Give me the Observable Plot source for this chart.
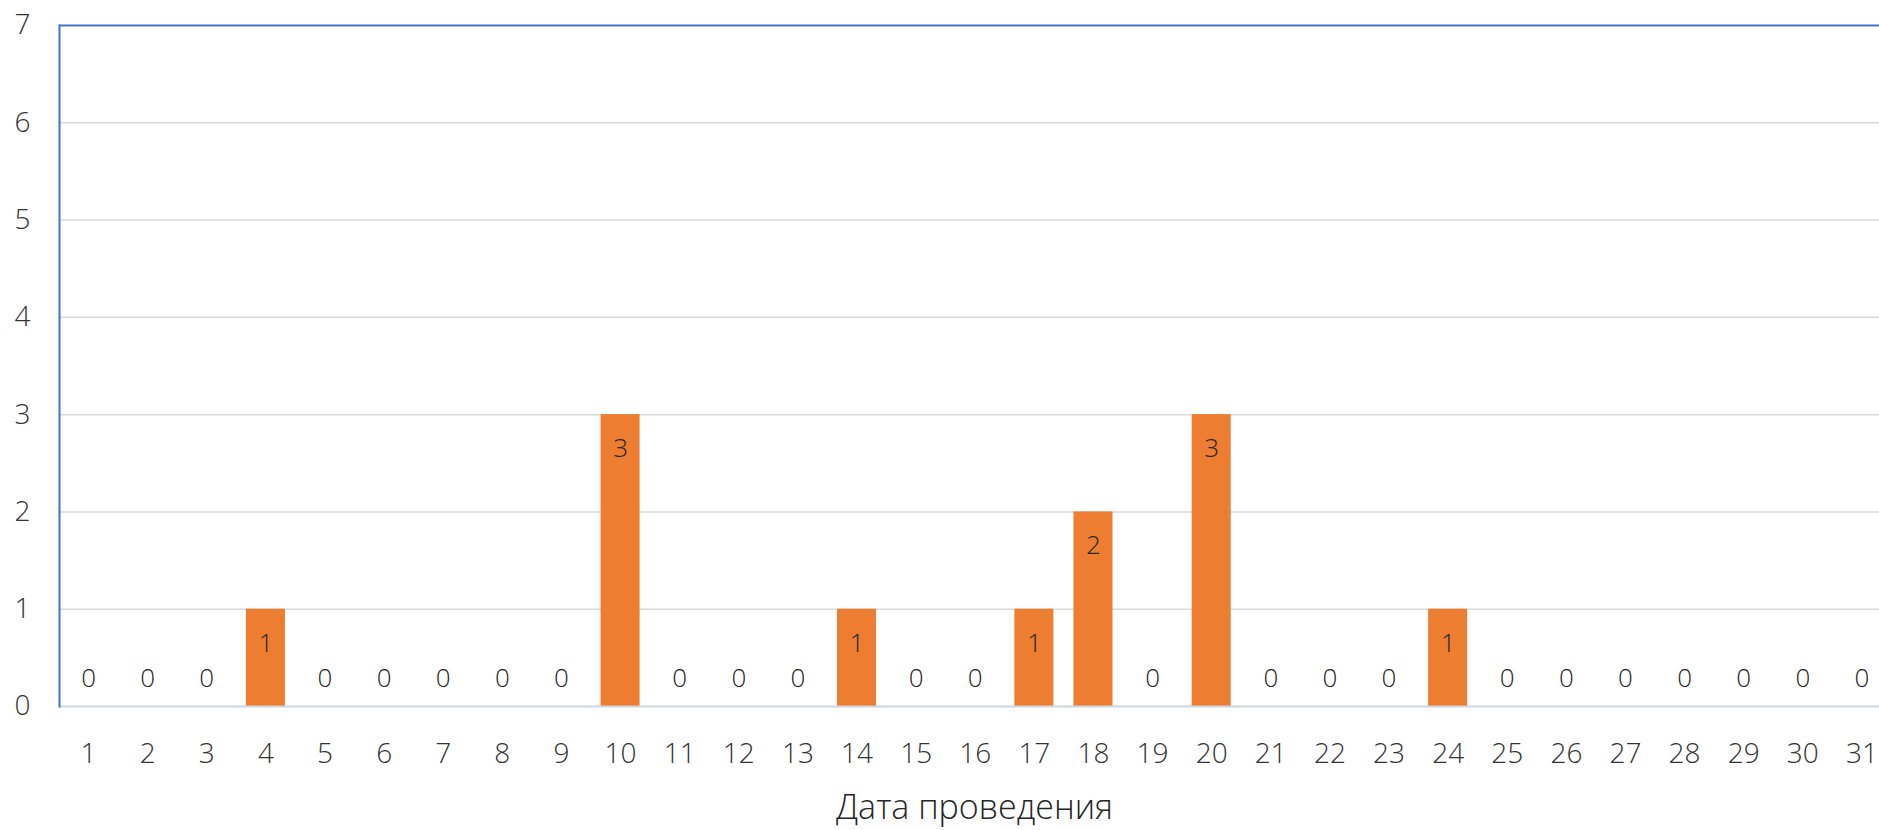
<!DOCTYPE html>
<html>
<head>
<meta charset="utf-8">
<script src="https://cdn.jsdelivr.net/npm/d3@7"></script>
<script src="https://cdn.jsdelivr.net/npm/@observablehq/plot@0.6"></script>
<style>
  html, body { margin: 0; padding: 0; background: #fff; }
  #chart { width: 1879px; height: 830px; overflow: hidden; }
</style>
</head>
<body>
<div id="chart"></div>
<script>
const days = ["1","2","3","4","5","6","7","8","9","10","11","12","13","14","15","16","17","18","19","20","21","22","23","24","25","26","27","28","29","30","31"];
const counts = [0,0,0,1,0,0,0,0,0,3,0,0,0,1,0,0,1,2,0,3,0,0,0,1,0,0,0,0,0,0,0];
const yTicks = [0,1,2,3,4,5,6,7];
const gridValues = [1,2,3,4,5,6];
const xTitle = "Дата проведения";

const data = days.map((d, i) => ({day: d, count: counts[i]}));

const chart = Plot.plot({
  width: 1879,
  height: 830,
  marginLeft: 59,
  marginRight: 0,
  marginTop: 25,
  marginBottom: 124,
  style: {fontFamily: "'Open Sans', sans-serif", fontWeight: 300, color: "#333", background: "#fff"},
  x: {domain: days, range: [58.5, 1891], round: false, paddingInner: 0.34, paddingOuter: 0.17, axis: null},
  y: {domain: [0, 7], axis: null},
  marks: [
    Plot.ruleY(gridValues, {stroke: "#d9d9d9", strokeWidth: 1.5}),
    Plot.barY(data, {x: "day", y: "count", fill: "#ED7D31"}),
    Plot.ruleY([0], {stroke: "#d0d6e0", strokeWidth: 2}),
    Plot.ruleY([7], {stroke: "#4472C4", strokeWidth: 2}),
    Plot.frame({anchor: "left", stroke: "#4472C4", strokeWidth: 2}),
    Plot.axisY({ticks: yTicks, tickFormat: d3.format("d"), tickSize: 0, tickPadding: 29, fontSize: 28, fill: "#333", label: null}),
    Plot.axisX({tickSize: 0, tickPadding: 37, fontSize: 28, fill: "#333", label: null}),
    Plot.text(data.filter(d => d.count > 0), {x: "day", y: "count", text: d => String(d.count), dy: 34, fontSize: 26, fill: "#262626"}),
    Plot.text(data.filter(d => d.count === 0), {x: "day", y: "count", text: d => String(d.count), dy: -28, fontSize: 26, fill: "#262626"}),
    Plot.text([xTitle], {frameAnchor: "bottom", dx: 5, dy: 112, fontSize: 34, fill: "#262626"})
  ]
});

document.getElementById("chart").appendChild(chart);
</script>
</body>
</html>
